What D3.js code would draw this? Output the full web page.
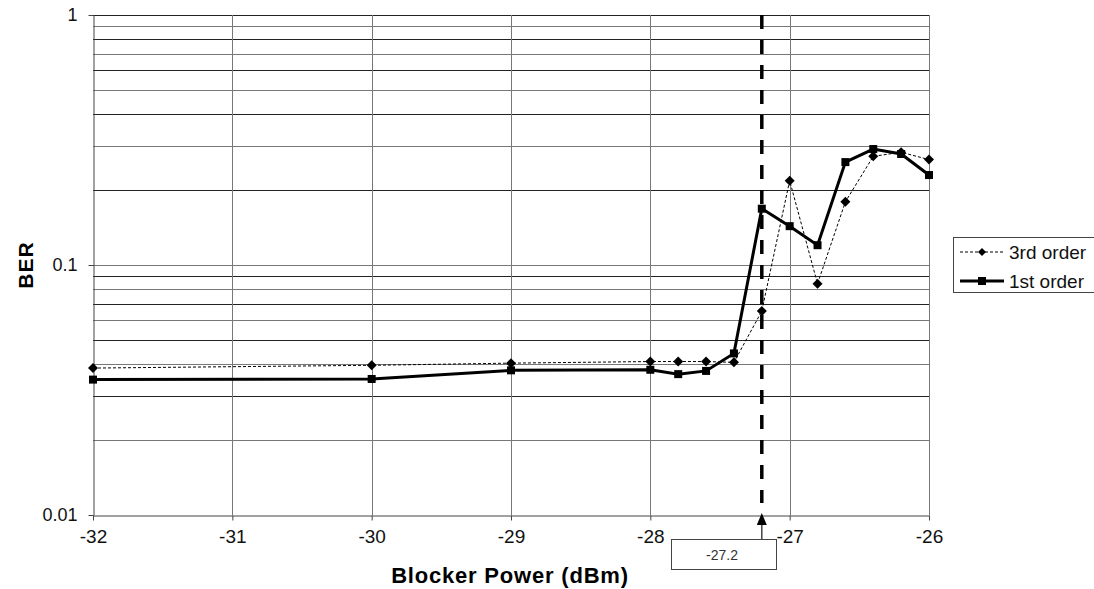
<!DOCTYPE html>
<html>
<head>
<meta charset="utf-8">
<script src="https://cdn.jsdelivr.net/npm/d3@7"></script>
<style>
  body { margin: 0; background: #fff; }
  text { font-family: "Liberation Sans", Arial, sans-serif; }
</style>
</head>
<body>
<div id="chart"></div>
<script>
var w = 1094;
var h = 589;

// data
var power = [-32, -30, -29, -28, -27.8, -27.6, -27.4, -27.2, -27, -26.8, -26.6, -26.4, -26.2, -26];
var ber3rd = [0.0387, 0.0397, 0.0405, 0.0411, 0.0411, 0.0411, 0.0408, 0.0654, 0.2175, 0.0841, 0.179, 0.272, 0.2825, 0.264];
var ber1st = [0.0348, 0.0350, 0.0379, 0.0381, 0.0366, 0.0377, 0.0443, 0.168, 0.143, 0.120, 0.258, 0.291, 0.278, 0.229];
var xTicks = [-32, -31, -30, -29, -28, -27, -26];
var yTicks = [0.01, 0.1, 1];
var markerPower = -27.2;

var svg = d3.select("#chart").append("svg")
  .attr("width", w)
  .attr("height", h)
  .style("background-color", "white");

var x = d3.scaleLinear().domain([-32, -26]).range([93, 929]);
var y = d3.scaleLog().domain([0.01, 1]).range([515, 15]);

// horizontal grid at every log tick
var minor = y.ticks().filter(function(d) { return d > 0.01; });
svg.append("g").selectAll("line")
  .data(minor)
  .enter().append("line")
  .attr("x1", x(-32)).attr("x2", x(-26))
  .attr("y1", function(d) { return Math.round(y(d)) + 0.5; })
  .attr("y2", function(d) { return Math.round(y(d)) + 0.5; })
  .attr("stroke", function(d, i) { return i % 2 ? "#222" : "#777"; })
  .attr("stroke-width", 1);

// vertical grid
svg.append("g").selectAll("line")
  .data(xTicks.slice(1))
  .enter().append("line")
  .attr("x1", function(d) { return Math.round(x(d)) + 0.5; })
  .attr("x2", function(d) { return Math.round(x(d)) + 0.5; })
  .attr("y1", y(1)).attr("y2", y(0.01))
  .attr("stroke", "#777");

// axes
var xAxis = svg.append("g")
  .attr("transform", "translate(0," + (Math.round(y(0.01)) + 0.5) + ")")
  .call(d3.axisBottom(x).tickValues(xTicks).tickFormat(function(d) { return String(d); }).tickSizeInner(5).tickSizeOuter(0).tickPadding(9));
var yAxis = svg.append("g")
  .attr("transform", "translate(" + (Math.round(x(-32)) + 0.5) + ",0)")
  .call(d3.axisLeft(y).tickValues(yTicks).tickFormat(function(d) { return String(d); }).tickSizeInner(5).tickSizeOuter(0).tickPadding(11));
[xAxis, yAxis].forEach(function(a) {
  a.select(".domain").attr("stroke", "#444");
  a.selectAll(".tick line").attr("stroke", "#444");
  a.selectAll("text").attr("font-size", 18).attr("fill", "#111")
    .style("font-family", "Liberation Sans, Arial, sans-serif");
});
xAxis.selectAll("text").attr("font-size", 19);

// dashed marker line
svg.append("line")
  .attr("x1", x(markerPower)).attr("x2", x(markerPower))
  .attr("y1", y(1)).attr("y2", y(0.01) - 12)
  .attr("stroke", "#000")
  .attr("stroke-width", 3.5)
  .attr("stroke-dasharray", "14,11");

// series lines
var line3 = d3.line().x(function(d, i) { return x(power[i]); }).y(function(d) { return y(d); });
svg.append("path")
  .attr("d", line3(ber3rd))
  .attr("fill", "none").attr("stroke", "#000").attr("stroke-width", 1)
  .attr("stroke-dasharray", "3,2");
svg.append("path")
  .attr("d", line3(ber1st))
  .attr("fill", "none").attr("stroke", "#000").attr("stroke-width", 3);

// square-ish diamond marker
var diamond = "M0,-5L5,0L0,5L-5,0Z";
svg.append("g").selectAll("path")
  .data(ber3rd)
  .enter().append("path")
  .attr("d", diamond)
  .attr("transform", function(d, i) { return "translate(" + x(power[i]) + "," + y(d) + ")"; })
  .attr("fill", "#000");

svg.append("g").selectAll("rect")
  .data(ber1st)
  .enter().append("rect")
  .attr("x", function(d, i) { return x(power[i]) - 4; })
  .attr("y", function(d) { return y(d) - 4; })
  .attr("width", 8).attr("height", 8)
  .attr("fill", "#000");

// annotation box with arrow
var ax = x(markerPower);
svg.append("line")
  .attr("x1", ax).attr("x2", ax)
  .attr("y1", 539).attr("y2", y(0.01) + 8)
  .attr("stroke", "#444").attr("stroke-width", 1.5);
svg.append("path")
  .attr("d", "M" + ax + "," + (y(0.01) - 2) + "L" + (ax - 5) + "," + (y(0.01) + 10) + "L" + (ax + 5) + "," + (y(0.01) + 10) + "Z")
  .attr("fill", "#000");
svg.append("rect")
  .attr("x", 671.5).attr("y", 539.5)
  .attr("width", 105).attr("height", 30)
  .attr("fill", "#fff").attr("stroke", "#444");
svg.append("text")
  .attr("x", 722).attr("y", 560)
  .attr("text-anchor", "middle")
  .attr("font-size", 14).attr("fill", "#333")
  .text(markerPower);

// axis titles
svg.append("text")
  .attr("transform", "translate(33,265) rotate(-90)")
  .attr("text-anchor", "middle")
  .attr("font-size", 21).attr("font-weight", "bold")
  .attr("letter-spacing", 1)
  .text("BER");
svg.append("text")
  .attr("x", 510).attr("y", 583)
  .attr("text-anchor", "middle")
  .attr("font-size", 22).attr("font-weight", "bold")
  .attr("letter-spacing", 0.8)
  .text("Blocker Power (dBm)");

// legend
var lg = svg.append("g");
lg.append("rect")
  .attr("x", 953.5).attr("y", 237.5)
  .attr("width", 150).attr("height", 55)
  .attr("fill", "#fff").attr("stroke", "#444");
var legendItems = [
  { name: "3rd order", dash: "3,2", sw: 1, mark: "diamond" },
  { name: "1st order", dash: null, sw: 3, mark: "square" }
];
legendItems.forEach(function(d, i) {
  var cy = 252 + i * 29;
  lg.append("line")
    .attr("x1", 960).attr("x2", 1004)
    .attr("y1", cy).attr("y2", cy)
    .attr("stroke", "#000").attr("stroke-width", d.sw)
    .attr("stroke-dasharray", d.dash);
  if (d.mark === "diamond") {
    lg.append("path").attr("d", "M0,-4L4,0L0,4L-4,0Z").attr("transform", "translate(982," + cy + ")").attr("fill", "#000");
  } else {
    lg.append("rect").attr("x", 978).attr("y", cy - 4).attr("width", 8).attr("height", 8).attr("fill", "#000");
  }
  lg.append("text")
    .attr("x", 1009).attr("y", cy + 7)
    .attr("font-size", 19).attr("fill", "#111")
    .text(d.name);
});
</script>
</body>
</html>
